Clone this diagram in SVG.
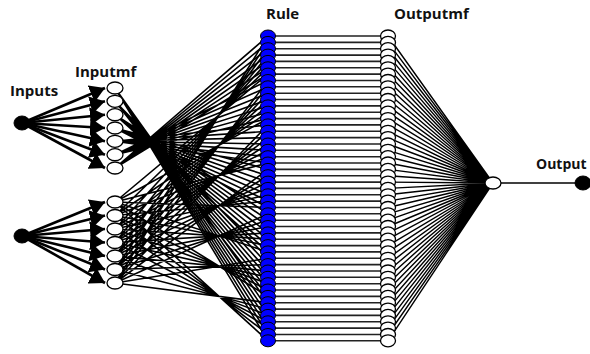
<svg xmlns="http://www.w3.org/2000/svg" width="590" height="354" viewBox="0 0 590 354">
<style>
.lbl{font-family:"Open Sans","Liberation Sans",sans-serif;font-weight:bold;font-size:15px;fill:#111}
.in ellipse,.out ellipse{fill:#000;stroke:#000}
.mf ellipse,.omf ellipse,.onode ellipse{fill:#fff;stroke:#000;stroke-width:1.3}
.rule ellipse{fill:#0000ff;stroke:#000;stroke-width:1}
.w{stroke:#000;stroke-width:1.6;fill:none}
.f{stroke:#000;stroke-width:1.4;fill:none}
.h{stroke:#222;stroke-width:1.6;fill:none}
.a{stroke:#000;stroke-width:2.6;marker-end:url(#ah)}
</style>
<defs>
<marker id="ah" markerUnits="userSpaceOnUse" markerWidth="15" markerHeight="18" refX="15" refY="9" orient="auto" viewBox="0 0 15 18"><path d="M0 0L15 9L0 18z" fill="#000"/></marker>
</defs>
<rect width="590" height="354" fill="#fff"/>
<g id="connectors">
<line class="a" x1="22" y1="123" x2="105" y2="88"/>
<line class="a" x1="22" y1="123" x2="105" y2="101.3"/>
<line class="a" x1="22" y1="123" x2="105" y2="114.7"/>
<line class="a" x1="22" y1="123" x2="105" y2="128"/>
<line class="a" x1="22" y1="123" x2="105" y2="141.3"/>
<line class="a" x1="22" y1="123" x2="105" y2="154.7"/>
<line class="a" x1="22" y1="123" x2="105" y2="168"/>
<line class="a" x1="22" y1="236" x2="105" y2="202"/>
<line class="a" x1="22" y1="236" x2="105" y2="215.5"/>
<line class="a" x1="22" y1="236" x2="105" y2="229"/>
<line class="a" x1="22" y1="236" x2="105" y2="242.5"/>
<line class="a" x1="22" y1="236" x2="105" y2="256"/>
<line class="a" x1="22" y1="236" x2="105" y2="269.5"/>
<line class="a" x1="22" y1="236" x2="105" y2="283"/>
<path class="w" d="M115 88L268 302.7M115 88L268 309.1M115 88L268 315.4M115 88L268 321.8M115 88L268 328.1M115 88L268 334.5M115 88L268 340.8
M115 101.3L268 258.3M115 101.3L268 264.6M115 101.3L268 271M115 101.3L268 277.3M115 101.3L268 283.7M115 101.3L268 290M115 101.3L268 296.4
M115 114.7L268 213.8M115 114.7L268 220.2M115 114.7L268 226.5M115 114.7L268 232.9M115 114.7L268 239.2M115 114.7L268 245.6M115 114.7L268 251.9
M115 128L268 169.4M115 128L268 175.7M115 128L268 182.1M115 128L268 188.4M115 128L268 194.8M115 128L268 201.1M115 128L268 207.5
M115 141.3L268 124.9M115 141.3L268 131.3M115 141.3L268 137.6M115 141.3L268 144M115 141.3L268 150.3M115 141.3L268 156.7M115 141.3L268 163
M115 154.7L268 80.5M115 154.7L268 86.8M115 154.7L268 93.2M115 154.7L268 99.5M115 154.7L268 105.9M115 154.7L268 112.2M115 154.7L268 118.6
M115 168L268 36M115 168L268 42.4M115 168L268 48.7M115 168L268 55.1M115 168L268 61.4M115 168L268 67.8M115 168L268 74.1"/>
<path class="w" d="M115 202L268 74.1M115 202L268 118.6M115 202L268 163M115 202L268 207.5M115 202L268 251.9M115 202L268 296.4M115 202L268 340.8
M115 215.5L268 67.8M115 215.5L268 112.2M115 215.5L268 156.7M115 215.5L268 201.1M115 215.5L268 245.6M115 215.5L268 290M115 215.5L268 334.5
M115 229L268 61.4M115 229L268 105.9M115 229L268 150.3M115 229L268 194.8M115 229L268 239.2M115 229L268 283.7M115 229L268 328.1
M115 242.5L268 55.1M115 242.5L268 99.5M115 242.5L268 144M115 242.5L268 188.4M115 242.5L268 232.9M115 242.5L268 277.3M115 242.5L268 321.8
M115 256L268 48.7M115 256L268 93.2M115 256L268 137.6M115 256L268 182.1M115 256L268 226.5M115 256L268 271M115 256L268 315.4
M115 269.5L268 42.4M115 269.5L268 86.8M115 269.5L268 131.3M115 269.5L268 175.7M115 269.5L268 220.2M115 269.5L268 264.6M115 269.5L268 309.1
M115 283L268 36M115 283L268 80.5M115 283L268 124.9M115 283L268 169.4M115 283L268 213.8M115 283L268 258.3M115 283L268 302.7"/>
<path class="h" d="M268 36H388M268 42.4H388M268 48.7H388M268 55.1H388M268 61.4H388M268 67.8H388M268 74.1H388M268 80.5H388M268 86.8H388M268 93.2H388M268 99.5H388M268 105.9H388M268 112.2H388M268 118.6H388M268 124.9H388M268 131.3H388M268 137.6H388M268 144H388M268 150.3H388M268 156.7H388M268 163H388M268 169.4H388M268 175.7H388M268 182.1H388M268 188.4H388M268 194.8H388M268 201.1H388M268 207.5H388M268 213.8H388M268 220.2H388M268 226.5H388M268 232.9H388M268 239.2H388M268 245.6H388M268 251.9H388M268 258.3H388M268 264.6H388M268 271H388M268 277.3H388M268 283.7H388M268 290H388M268 296.4H388M268 302.7H388M268 309.1H388M268 315.4H388M268 321.8H388M268 328.1H388M268 334.5H388M268 340.8H388"/>
<path class="f" d="M388 36L493 183M388 42.4L493 183M388 48.7L493 183M388 55.1L493 183M388 61.4L493 183M388 67.8L493 183M388 74.1L493 183M388 80.5L493 183M388 86.8L493 183M388 93.2L493 183M388 99.5L493 183M388 105.9L493 183M388 112.2L493 183M388 118.6L493 183M388 124.9L493 183M388 131.3L493 183M388 137.6L493 183M388 144L493 183M388 150.3L493 183M388 156.7L493 183M388 163L493 183M388 169.4L493 183M388 175.7L493 183M388 182.1L493 183M388 188.4L493 183M388 194.8L493 183M388 201.1L493 183M388 207.5L493 183M388 213.8L493 183M388 220.2L493 183M388 226.5L493 183M388 232.9L493 183M388 239.2L493 183M388 245.6L493 183M388 251.9L493 183M388 258.3L493 183M388 264.6L493 183M388 271L493 183M388 277.3L493 183M388 283.7L493 183M388 290L493 183M388 296.4L493 183M388 302.7L493 183M388 309.1L493 183M388 315.4L493 183M388 321.8L493 183M388 328.1L493 183M388 334.5L493 183M388 340.8L493 183"/>
<path class="f" d="M493 183H583"/>
</g>
<g id="input1" class="in"><ellipse cx="22" cy="123" rx="8" ry="7"/></g>
<g id="input2" class="in"><ellipse cx="22" cy="236" rx="8" ry="7"/></g>
<g id="in1mf1" class="mf"><ellipse cx="115" cy="88" rx="8" ry="6"/></g>
<g id="in1mf2" class="mf"><ellipse cx="115" cy="101.3" rx="8" ry="6"/></g>
<g id="in1mf3" class="mf"><ellipse cx="115" cy="114.7" rx="8" ry="6"/></g>
<g id="in1mf4" class="mf"><ellipse cx="115" cy="128" rx="8" ry="6"/></g>
<g id="in1mf5" class="mf"><ellipse cx="115" cy="141.3" rx="8" ry="6"/></g>
<g id="in1mf6" class="mf"><ellipse cx="115" cy="154.7" rx="8" ry="6"/></g>
<g id="in1mf7" class="mf"><ellipse cx="115" cy="168" rx="8" ry="6"/></g>
<g id="in2mf1" class="mf"><ellipse cx="115" cy="202" rx="8" ry="6"/></g>
<g id="in2mf2" class="mf"><ellipse cx="115" cy="215.5" rx="8" ry="6"/></g>
<g id="in2mf3" class="mf"><ellipse cx="115" cy="229" rx="8" ry="6"/></g>
<g id="in2mf4" class="mf"><ellipse cx="115" cy="242.5" rx="8" ry="6"/></g>
<g id="in2mf5" class="mf"><ellipse cx="115" cy="256" rx="8" ry="6"/></g>
<g id="in2mf6" class="mf"><ellipse cx="115" cy="269.5" rx="8" ry="6"/></g>
<g id="in2mf7" class="mf"><ellipse cx="115" cy="283" rx="8" ry="6"/></g>
<g id="rule1" class="rule"><ellipse cx="268" cy="36" rx="7.5" ry="6"/></g>
<g id="rule2" class="rule"><ellipse cx="268" cy="42.4" rx="7.5" ry="6"/></g>
<g id="rule3" class="rule"><ellipse cx="268" cy="48.7" rx="7.5" ry="6"/></g>
<g id="rule4" class="rule"><ellipse cx="268" cy="55.1" rx="7.5" ry="6"/></g>
<g id="rule5" class="rule"><ellipse cx="268" cy="61.4" rx="7.5" ry="6"/></g>
<g id="rule6" class="rule"><ellipse cx="268" cy="67.8" rx="7.5" ry="6"/></g>
<g id="rule7" class="rule"><ellipse cx="268" cy="74.1" rx="7.5" ry="6"/></g>
<g id="rule8" class="rule"><ellipse cx="268" cy="80.5" rx="7.5" ry="6"/></g>
<g id="rule9" class="rule"><ellipse cx="268" cy="86.8" rx="7.5" ry="6"/></g>
<g id="rule10" class="rule"><ellipse cx="268" cy="93.2" rx="7.5" ry="6"/></g>
<g id="rule11" class="rule"><ellipse cx="268" cy="99.5" rx="7.5" ry="6"/></g>
<g id="rule12" class="rule"><ellipse cx="268" cy="105.9" rx="7.5" ry="6"/></g>
<g id="rule13" class="rule"><ellipse cx="268" cy="112.2" rx="7.5" ry="6"/></g>
<g id="rule14" class="rule"><ellipse cx="268" cy="118.6" rx="7.5" ry="6"/></g>
<g id="rule15" class="rule"><ellipse cx="268" cy="124.9" rx="7.5" ry="6"/></g>
<g id="rule16" class="rule"><ellipse cx="268" cy="131.3" rx="7.5" ry="6"/></g>
<g id="rule17" class="rule"><ellipse cx="268" cy="137.6" rx="7.5" ry="6"/></g>
<g id="rule18" class="rule"><ellipse cx="268" cy="144" rx="7.5" ry="6"/></g>
<g id="rule19" class="rule"><ellipse cx="268" cy="150.3" rx="7.5" ry="6"/></g>
<g id="rule20" class="rule"><ellipse cx="268" cy="156.7" rx="7.5" ry="6"/></g>
<g id="rule21" class="rule"><ellipse cx="268" cy="163" rx="7.5" ry="6"/></g>
<g id="rule22" class="rule"><ellipse cx="268" cy="169.4" rx="7.5" ry="6"/></g>
<g id="rule23" class="rule"><ellipse cx="268" cy="175.7" rx="7.5" ry="6"/></g>
<g id="rule24" class="rule"><ellipse cx="268" cy="182.1" rx="7.5" ry="6"/></g>
<g id="rule25" class="rule"><ellipse cx="268" cy="188.4" rx="7.5" ry="6"/></g>
<g id="rule26" class="rule"><ellipse cx="268" cy="194.8" rx="7.5" ry="6"/></g>
<g id="rule27" class="rule"><ellipse cx="268" cy="201.1" rx="7.5" ry="6"/></g>
<g id="rule28" class="rule"><ellipse cx="268" cy="207.5" rx="7.5" ry="6"/></g>
<g id="rule29" class="rule"><ellipse cx="268" cy="213.8" rx="7.5" ry="6"/></g>
<g id="rule30" class="rule"><ellipse cx="268" cy="220.2" rx="7.5" ry="6"/></g>
<g id="rule31" class="rule"><ellipse cx="268" cy="226.5" rx="7.5" ry="6"/></g>
<g id="rule32" class="rule"><ellipse cx="268" cy="232.9" rx="7.5" ry="6"/></g>
<g id="rule33" class="rule"><ellipse cx="268" cy="239.2" rx="7.5" ry="6"/></g>
<g id="rule34" class="rule"><ellipse cx="268" cy="245.6" rx="7.5" ry="6"/></g>
<g id="rule35" class="rule"><ellipse cx="268" cy="251.9" rx="7.5" ry="6"/></g>
<g id="rule36" class="rule"><ellipse cx="268" cy="258.3" rx="7.5" ry="6"/></g>
<g id="rule37" class="rule"><ellipse cx="268" cy="264.6" rx="7.5" ry="6"/></g>
<g id="rule38" class="rule"><ellipse cx="268" cy="271" rx="7.5" ry="6"/></g>
<g id="rule39" class="rule"><ellipse cx="268" cy="277.3" rx="7.5" ry="6"/></g>
<g id="rule40" class="rule"><ellipse cx="268" cy="283.7" rx="7.5" ry="6"/></g>
<g id="rule41" class="rule"><ellipse cx="268" cy="290" rx="7.5" ry="6"/></g>
<g id="rule42" class="rule"><ellipse cx="268" cy="296.4" rx="7.5" ry="6"/></g>
<g id="rule43" class="rule"><ellipse cx="268" cy="302.7" rx="7.5" ry="6"/></g>
<g id="rule44" class="rule"><ellipse cx="268" cy="309.1" rx="7.5" ry="6"/></g>
<g id="rule45" class="rule"><ellipse cx="268" cy="315.4" rx="7.5" ry="6"/></g>
<g id="rule46" class="rule"><ellipse cx="268" cy="321.8" rx="7.5" ry="6"/></g>
<g id="rule47" class="rule"><ellipse cx="268" cy="328.1" rx="7.5" ry="6"/></g>
<g id="rule48" class="rule"><ellipse cx="268" cy="334.5" rx="7.5" ry="6"/></g>
<g id="rule49" class="rule"><ellipse cx="268" cy="340.8" rx="7.5" ry="6"/></g>
<g id="outmf1" class="omf"><ellipse cx="388" cy="36" rx="7.5" ry="6"/></g>
<g id="outmf2" class="omf"><ellipse cx="388" cy="42.4" rx="7.5" ry="6"/></g>
<g id="outmf3" class="omf"><ellipse cx="388" cy="48.7" rx="7.5" ry="6"/></g>
<g id="outmf4" class="omf"><ellipse cx="388" cy="55.1" rx="7.5" ry="6"/></g>
<g id="outmf5" class="omf"><ellipse cx="388" cy="61.4" rx="7.5" ry="6"/></g>
<g id="outmf6" class="omf"><ellipse cx="388" cy="67.8" rx="7.5" ry="6"/></g>
<g id="outmf7" class="omf"><ellipse cx="388" cy="74.1" rx="7.5" ry="6"/></g>
<g id="outmf8" class="omf"><ellipse cx="388" cy="80.5" rx="7.5" ry="6"/></g>
<g id="outmf9" class="omf"><ellipse cx="388" cy="86.8" rx="7.5" ry="6"/></g>
<g id="outmf10" class="omf"><ellipse cx="388" cy="93.2" rx="7.5" ry="6"/></g>
<g id="outmf11" class="omf"><ellipse cx="388" cy="99.5" rx="7.5" ry="6"/></g>
<g id="outmf12" class="omf"><ellipse cx="388" cy="105.9" rx="7.5" ry="6"/></g>
<g id="outmf13" class="omf"><ellipse cx="388" cy="112.2" rx="7.5" ry="6"/></g>
<g id="outmf14" class="omf"><ellipse cx="388" cy="118.6" rx="7.5" ry="6"/></g>
<g id="outmf15" class="omf"><ellipse cx="388" cy="124.9" rx="7.5" ry="6"/></g>
<g id="outmf16" class="omf"><ellipse cx="388" cy="131.3" rx="7.5" ry="6"/></g>
<g id="outmf17" class="omf"><ellipse cx="388" cy="137.6" rx="7.5" ry="6"/></g>
<g id="outmf18" class="omf"><ellipse cx="388" cy="144" rx="7.5" ry="6"/></g>
<g id="outmf19" class="omf"><ellipse cx="388" cy="150.3" rx="7.5" ry="6"/></g>
<g id="outmf20" class="omf"><ellipse cx="388" cy="156.7" rx="7.5" ry="6"/></g>
<g id="outmf21" class="omf"><ellipse cx="388" cy="163" rx="7.5" ry="6"/></g>
<g id="outmf22" class="omf"><ellipse cx="388" cy="169.4" rx="7.5" ry="6"/></g>
<g id="outmf23" class="omf"><ellipse cx="388" cy="175.7" rx="7.5" ry="6"/></g>
<g id="outmf24" class="omf"><ellipse cx="388" cy="182.1" rx="7.5" ry="6"/></g>
<g id="outmf25" class="omf"><ellipse cx="388" cy="188.4" rx="7.5" ry="6"/></g>
<g id="outmf26" class="omf"><ellipse cx="388" cy="194.8" rx="7.5" ry="6"/></g>
<g id="outmf27" class="omf"><ellipse cx="388" cy="201.1" rx="7.5" ry="6"/></g>
<g id="outmf28" class="omf"><ellipse cx="388" cy="207.5" rx="7.5" ry="6"/></g>
<g id="outmf29" class="omf"><ellipse cx="388" cy="213.8" rx="7.5" ry="6"/></g>
<g id="outmf30" class="omf"><ellipse cx="388" cy="220.2" rx="7.5" ry="6"/></g>
<g id="outmf31" class="omf"><ellipse cx="388" cy="226.5" rx="7.5" ry="6"/></g>
<g id="outmf32" class="omf"><ellipse cx="388" cy="232.9" rx="7.5" ry="6"/></g>
<g id="outmf33" class="omf"><ellipse cx="388" cy="239.2" rx="7.5" ry="6"/></g>
<g id="outmf34" class="omf"><ellipse cx="388" cy="245.6" rx="7.5" ry="6"/></g>
<g id="outmf35" class="omf"><ellipse cx="388" cy="251.9" rx="7.5" ry="6"/></g>
<g id="outmf36" class="omf"><ellipse cx="388" cy="258.3" rx="7.5" ry="6"/></g>
<g id="outmf37" class="omf"><ellipse cx="388" cy="264.6" rx="7.5" ry="6"/></g>
<g id="outmf38" class="omf"><ellipse cx="388" cy="271" rx="7.5" ry="6"/></g>
<g id="outmf39" class="omf"><ellipse cx="388" cy="277.3" rx="7.5" ry="6"/></g>
<g id="outmf40" class="omf"><ellipse cx="388" cy="283.7" rx="7.5" ry="6"/></g>
<g id="outmf41" class="omf"><ellipse cx="388" cy="290" rx="7.5" ry="6"/></g>
<g id="outmf42" class="omf"><ellipse cx="388" cy="296.4" rx="7.5" ry="6"/></g>
<g id="outmf43" class="omf"><ellipse cx="388" cy="302.7" rx="7.5" ry="6"/></g>
<g id="outmf44" class="omf"><ellipse cx="388" cy="309.1" rx="7.5" ry="6"/></g>
<g id="outmf45" class="omf"><ellipse cx="388" cy="315.4" rx="7.5" ry="6"/></g>
<g id="outmf46" class="omf"><ellipse cx="388" cy="321.8" rx="7.5" ry="6"/></g>
<g id="outmf47" class="omf"><ellipse cx="388" cy="328.1" rx="7.5" ry="6"/></g>
<g id="outmf48" class="omf"><ellipse cx="388" cy="334.5" rx="7.5" ry="6"/></g>
<g id="outmf49" class="omf"><ellipse cx="388" cy="340.8" rx="7.5" ry="6"/></g>
<g id="sum" class="onode"><ellipse cx="493" cy="183" rx="8" ry="6"/></g>
<g id="output" class="out"><ellipse cx="583" cy="183" rx="8" ry="7"/></g>
<g id="labels">
<text class="lbl" x="10" y="96">Inputs</text>
<text class="lbl" x="75" y="77">Inputmf</text>
<text class="lbl" x="266" y="19">Rule</text>
<text class="lbl" x="394" y="19">Outputmf</text>
<text class="lbl" x="536" y="169" style="font-size:14px">Output</text>
</g>
</svg>
